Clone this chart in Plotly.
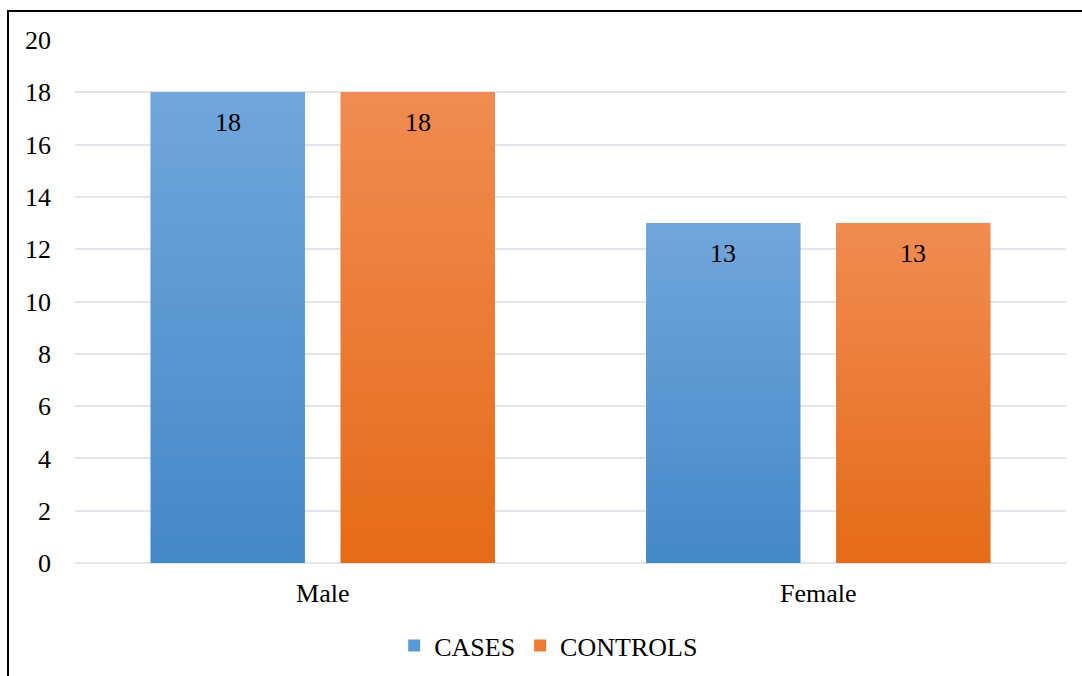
import base64
import struct
import zlib

import plotly.graph_objects as go

categories = ["Male", "Female"]
cases = [18, 13]
controls = [18, 13]

series = [
    ("CASES", cases, "#5A98D6", ((112, 166, 220), (68, 137, 200))),
    ("CONTROLS", controls, "#EE7A33", ((241, 139, 82), (229, 108, 24))),
]

BARGAP = 0.233
BARGROUPGAP = 0.189
FONT = "Times New Roman, Liberation Serif, Tinos, serif"
FONT_SIZE = 26


def gradient_png(top, bottom, h=64):
    """Vertical linear gradient as a 1-pixel-wide PNG data URI."""
    raw = b""
    for r in range(h):
        t = r / (h - 1)
        px = bytes(int(round(top[k] + (bottom[k] - top[k]) * t)) for k in range(3))
        raw += b"\x00" + px

    def chunk(tag, data):
        c = tag + data
        return struct.pack(">I", len(data)) + c + struct.pack(">I", zlib.crc32(c) & 0xFFFFFFFF)

    png = b"\x89PNG\r\n\x1a\n"
    png += chunk(b"IHDR", struct.pack(">IIBBBBB", 1, h, 8, 2, 0, 0, 0))
    png += chunk(b"IDAT", zlib.compress(raw))
    png += chunk(b"IEND", b"")
    return "data:image/png;base64," + base64.b64encode(png).decode()


fig = go.Figure()
images = []
annotations = []

n = len(series)
slot = (1 - BARGAP) / n
bar_w = slot * (1 - BARGROUPGAP)

for si, (name, values, solid, (top, bottom)) in enumerate(series):
    fig.add_trace(go.Bar(
        name=name,
        x=categories,
        y=values,
        marker=dict(color=solid, line=dict(width=0)),
        hoverinfo="skip",
    ))
    src = gradient_png(top, bottom)
    offset = -(1 - BARGAP) / 2 + slot * (si + 0.5)
    for ci, v in enumerate(values):
        images.append(dict(
            source=src, xref="x", yref="y",
            x=ci + offset - bar_w / 2, y=v,
            sizex=bar_w, sizey=v,
            xanchor="left", yanchor="top",
            sizing="stretch", layer="above",
        ))
        annotations.append(dict(
            x=ci + offset, y=v, xref="x", yref="y",
            text=str(v), showarrow=False, yshift=-30,
            font=dict(family=FONT, size=FONT_SIZE, color="#000000"),
        ))

fig.update_layout(
    width=1082, height=676,
    margin=dict(l=75, r=16, t=40, b=113, autoexpand=False),
    paper_bgcolor="white", plot_bgcolor="white",
    barmode="group", bargap=BARGAP, bargroupgap=BARGROUPGAP,
    font=dict(family=FONT, size=FONT_SIZE, color="#000000"),
    images=images,
    annotations=annotations,
    showlegend=True,
    legend=dict(
        orientation="h", x=0.478, xanchor="center", y=-0.113, yanchor="top",
        font=dict(family=FONT, size=FONT_SIZE, color="#000000"),
        itemwidth=30, tracegroupgap=0,
    ),
    xaxis=dict(
        showgrid=False, showline=False, zeroline=False,
        ticks="", ticklabelstandoff=12,
        tickfont=dict(family=FONT, size=FONT_SIZE),
    ),
    yaxis=dict(
        range=[0, 20], dtick=2, tick0=0,
        showgrid=True, gridcolor="#E1E5EC", gridwidth=1.5,
        zeroline=True, zerolinecolor="#E1E5EC", zerolinewidth=1.5,
        showline=False, ticks="", ticklabelstandoff=23,
        tickfont=dict(family=FONT, size=FONT_SIZE),
    ),
    shapes=[dict(
        type="rect", xref="paper", yref="paper",
        x0=-0.0676, y0=-0.4, x1=1.1, y1=1.0555,
        line=dict(color="#000000", width=2), fillcolor="rgba(0,0,0,0)",
        layer="above",
    )],
)

fig.write_html("out.html")
